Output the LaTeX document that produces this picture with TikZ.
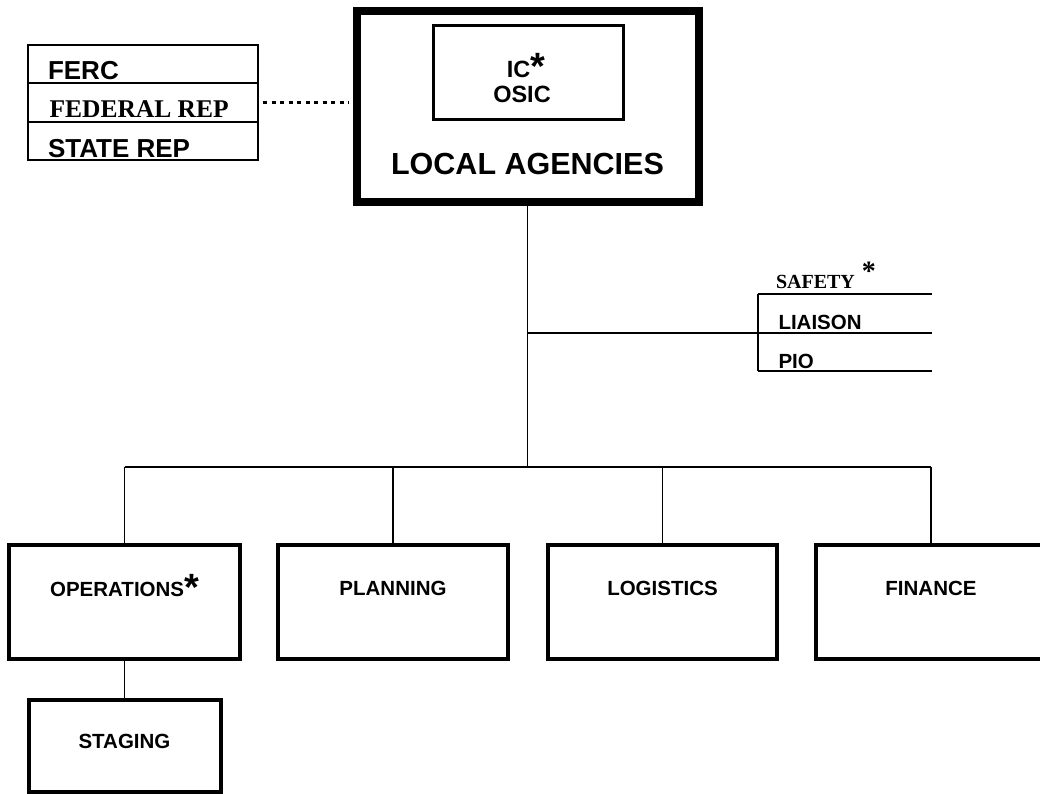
\documentclass[tikz,border=0pt]{standalone}
\usepackage{fontspec}
\newfontfamily\arialf{Liberation Sans}
\newfontfamily\timesf{Liberation Serif}
\begin{document}
\begin{tikzpicture}[x=1pt,y=-1pt,
  box/.style={draw, rectangle, line width=4pt, inner sep=0pt, outer sep=0pt},
  conn/.style={line width=1.5pt},
  rule/.style={line width=1.8pt},
  dotline/.style={line width=3pt, dash pattern=on 4pt off 4.5pt},
  txt/.style={inner sep=0pt, outer sep=0pt, anchor=base},
  sans/.style={font=\arialf\bfseries\fontsize{#1}{#1}\selectfont},
  serif/.style={font=\timesf\bfseries\fontsize{#1}{#1}\selectfont}]
\useasboundingbox (0,0) rectangle (1040,794);
\clip (0,0) rectangle (1040,794);

% top box
\node[box, line width=8pt, minimum width=342pt, minimum height=191pt] (big) at (527.5,106.5) {};
\node[box, line width=3pt, minimum width=190pt, minimum height=94.3pt] (ic) at (528.6,72.8) {};
\node[txt, sans=23.5] (ictext) at (526,78) {IC\raisebox{-2pt}{\fontsize{38}{38}\selectfont *}};
\node[txt, sans=23.5] (osic) at (522,103) {OSIC};
\node[txt, sans=30.5] (local) at (527.5,175) {LOCAL AGENCIES};

% reps table
\node[draw, rectangle, line width=1.8pt, inner sep=0pt, outer sep=0pt, minimum width=230pt, minimum height=115pt] (reps) at (143,102.5) {};
\coordinate (r1) at (0,83);
\coordinate (r2) at (0,122);
\draw[rule] (reps.west |- r1) -- (reps.east |- r1);
\draw[rule] (reps.west |- r2) -- (reps.east |- r2);
\node[txt, sans=26, anchor=base west] (ferc) at (48,80) {FERC};
\node[txt, serif=25.5, anchor=base west] (fed) at (49.5,118) {FEDERAL REP};
\node[txt, sans=26, anchor=base west] (state) at (48,158) {STATE REP};
\coordinate (dotend) at (reps.east -| big.west);
\draw[dotline, shorten <=5pt, shorten >=8pt] (reps.east) -- (dotend);

% staff
\coordinate (sA) at (758,294);
\coordinate (sAe) at (932,294);
\coordinate (sB) at (758,333);
\coordinate (sBe) at (932,333);
\coordinate (sC) at (758,371);
\coordinate (sCe) at (932,371);
\draw[rule] (sA) -- (sAe);
\draw[rule] (sC) -- (sCe);
\draw[rule] (sA) -- (sC);
\node[txt, serif=20, anchor=base west] (safety) at (776,288) {SAFETY\hspace{7pt}\raisebox{8pt}{\fontsize{28}{28}\selectfont *}};
\node[txt, sans=20.5, anchor=base west] (liaison) at (778.5,329) {LIAISON};
\node[txt, sans=20.5, anchor=base west] (pio) at (778.5,368) {PIO};

% sections
\node[box, minimum width=231pt, minimum height=113.5pt] (ops) at (124.5,602) {};
\node[box, minimum width=230pt, minimum height=113.5pt] (plan) at (393,602) {};
\node[box, minimum width=229pt, minimum height=113.5pt] (log) at (662.5,602) {};
\node[box, minimum width=230pt, minimum height=113.5pt] (fin) at (931,602) {};
\node[box, minimum width=192pt, minimum height=92pt] (stg) at (124.5,746) {};
\node[txt, sans=20.5] (opst) at (124.5,596) {OPERATIONS\raisebox{-4pt}{\fontsize{38}{38}\selectfont *}};
\node[txt, sans=20.5] (plant) at (393,595) {PLANNING};
\node[txt, sans=20.5] (logt) at (662.5,595) {LOGISTICS};
\node[txt, sans=20.5] (fint) at (931,595) {FINANCE};
\node[txt, sans=20.5] (stgt) at (124.5,748) {STAGING};

% connectors
\coordinate (busc) at (527.5,467);
\draw[conn] (big.south) -- (busc);
\draw[conn] (big.south |- sB) -- (sBe);
\draw[conn] (ops.north |- busc) -- (fin.north |- busc);
\draw[conn] (ops.north) -- (ops.north |- busc);
\draw[conn] (plan.north) -- (plan.north |- busc);
\draw[conn] (log.north) -- (log.north |- busc);
\draw[conn] (fin.north) -- (fin.north |- busc);
\draw[conn] (ops.south) -- (stg.north);
\end{tikzpicture}
\end{document}
